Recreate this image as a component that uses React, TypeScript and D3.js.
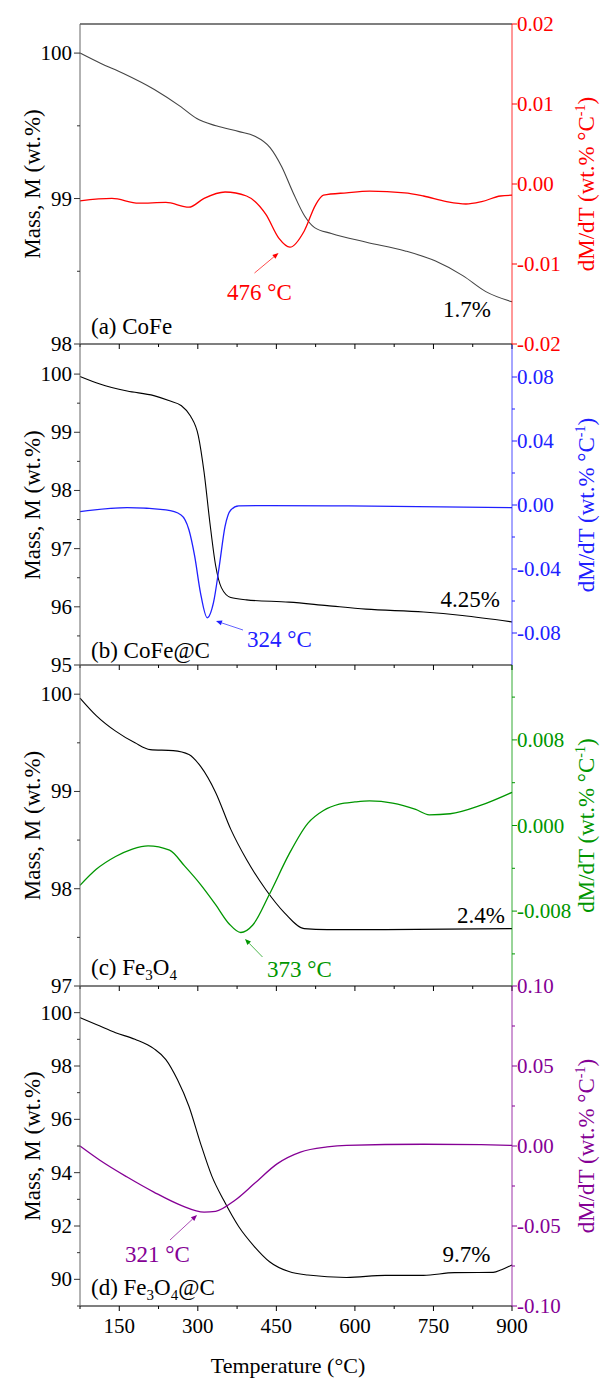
import React from "react";
import * as d3 from "d3";

// temperature axis
const xTicks = [150, 300, 450, 600, 750, 900];
const xMinorTicks = [75, 225, 375, 525, 675, 825];

// (a) CoFe
const coFeMassT = [75, 114, 158, 217, 268, 298, 335, 379, 408, 438, 460, 482, 504, 523, 555, 622, 696, 754, 806, 850, 900];
const coFeMass = [100.0, 99.93, 99.86, 99.75, 99.63, 99.55, 99.5, 99.46, 99.43, 99.35, 99.22, 99.04, 98.88, 98.8, 98.76, 98.7, 98.64, 98.57, 98.47, 98.36, 98.29];
const coFeDtgT = [75, 136, 187, 239, 283, 312, 352, 393, 430, 455, 476, 503, 525, 540, 584, 628, 695, 731, 775, 812, 842, 878, 900];
const coFeDtg = [-0.0021, -0.0018, -0.0024, -0.0023, -0.0029, -0.0018, -0.001, -0.0015, -0.0038, -0.0068, -0.0079, -0.0059, -0.0026, -0.0014, -0.0011, -0.0009, -0.0011, -0.0015, -0.0022, -0.0025, -0.0022, -0.0015, -0.0014];

// (b) CoFe@C
const coFeCMassT = [75, 113, 165, 216, 246, 268, 286, 301, 312, 323, 334, 345, 363, 393, 474, 547, 621, 731, 805, 900];
const coFeCMass = [99.96, 99.83, 99.71, 99.63, 99.54, 99.46, 99.28, 98.94, 98.31, 97.45, 96.71, 96.33, 96.16, 96.12, 96.08, 96.02, 95.96, 95.91, 95.85, 95.74];
const coFeCDtgT = [75, 165, 239, 268, 283, 294, 305, 318, 330, 341, 352, 363, 378, 437, 588, 900];
const coFeCDtg = [-0.0041, -0.0017, -0.0031, -0.0062, -0.0155, -0.032, -0.0547, -0.0705, -0.0609, -0.0382, -0.0134, -0.0031, -0.0006, -0.0004, -0.0006, -0.0017];

// (c) Fe3O4
const fe3o4MassT = [75, 106, 143, 180, 209, 253, 283, 305, 334, 363, 393, 430, 466, 503, 547, 658, 900];
const fe3o4Mass = [99.96, 99.78, 99.62, 99.5, 99.43, 99.42, 99.38, 99.26, 98.99, 98.61, 98.3, 97.99, 97.75, 97.59, 97.58, 97.58, 97.59];
const fe3o4DtgT = [75, 106, 143, 175, 205, 246, 275, 305, 334, 360, 382, 405, 437, 474, 510, 540, 570, 600, 628, 672, 716, 742, 782, 841, 900];
const fe3o4Dtg = [-0.0056, -0.0041, -0.0029, -0.0022, -0.0019, -0.0023, -0.0038, -0.0055, -0.0074, -0.0092, -0.01, -0.0093, -0.0064, -0.0027, 0.0002, 0.0014, 0.002, 0.0022, 0.0023, 0.0021, 0.0015, 0.001, 0.0011, 0.0019, 0.0031];

// (d) Fe3O4@C
const fe3o4CMassT = [75, 106, 143, 180, 216, 239, 261, 283, 305, 327, 349, 378, 408, 437, 474, 510, 584, 658, 731, 790, 864, 880, 900];
const fe3o4CMass = [99.81, 99.56, 99.25, 99.0, 98.65, 98.24, 97.49, 96.49, 95.11, 93.86, 92.98, 91.98, 91.23, 90.66, 90.29, 90.16, 90.07, 90.15, 90.15, 90.25, 90.26, 90.36, 90.54];
const fe3o4CDtgT = [75, 113, 165, 216, 268, 312, 334, 371, 408, 452, 496, 547, 584, 731, 841, 900];
const fe3o4CDtg = [0.0, -0.0089, -0.0194, -0.0288, -0.0371, -0.0413, -0.0408, -0.0339, -0.0235, -0.011, -0.0038, -0.0006, 0.0004, 0.0011, 0.0008, 0.0004];

const FONT = "'Liberation Serif', 'Times New Roman', serif";
const X0 = 80;
const X1 = 512;

const x = d3.scaleLinear().domain([75, 900]).range([X0, X1]);

const zip = (t: number[], v: number[]) => t.map((d, i) => [d, v[i]] as [number, number]);

const panels = [
  {
    top: 24, bottom: 344, color: "#ff0000", massColor: "#444",
    mDomain: [98, 100.2], mTicks: [98, 99, 100], mMinor: [98.5, 99.5],
    dDomain: [-0.02, 0.02], dTicks: [-0.02, -0.01, 0, 0.01, 0.02], dMinor: [] as number[], dFmt: ".2f",
    mass: zip(coFeMassT, coFeMass), dtg: zip(coFeDtgT, coFeDtg),
    label: ["(a) CoFe"], peak: "476 °C", peakPos: [227, 300], arrow: [254.5, 273, 278.5, 253],
    loss: "1.7%", lossPos: [443, 317], labelY: 334, frameTop: true,
  },
  {
    top: 345, bottom: 665, color: "#2020ff", massColor: "#000",
    mDomain: [95, 100.5], mTicks: [95, 96, 97, 98, 99, 100], mMinor: [95.5, 96.5, 97.5, 98.5, 99.5],
    dDomain: [-0.1, 0.1], dTicks: [-0.08, -0.04, 0, 0.04, 0.08], dMinor: [-0.06, -0.02, 0.02, 0.06], dFmt: ".2f",
    mass: zip(coFeCMassT, coFeCMass), dtg: zip(coFeCDtgT, coFeCDtg),
    label: ["(b) CoFe@C"], peak: "324 °C", peakPos: [247, 647], arrow: [243, 630, 216, 621],
    loss: "4.25%", lossPos: [440.5, 607], labelY: 658, frameTop: false,
  },
  {
    top: 665, bottom: 986, color: "#009600", massColor: "#000",
    mDomain: [97, 100.3], mTicks: [97, 98, 99, 100], mMinor: [97.5, 98.5, 99.5],
    dDomain: [-0.015, 0.015], dTicks: [-0.008, 0, 0.008], dMinor: [-0.012, -0.004, 0.004, 0.012], dFmt: ".3f",
    mass: zip(fe3o4MassT, fe3o4Mass), dtg: zip(fe3o4DtgT, fe3o4Dtg),
    label: ["(c) Fe", "3", "O", "4", ""], peak: "373 °C", peakPos: [267, 977], arrow: [262.5, 957, 245, 939],
    loss: "2.4%", lossPos: [457, 923], labelY: 975, frameTop: false,
  },
  {
    top: 986, bottom: 1306, color: "#850095", massColor: "#000",
    mDomain: [89, 101], mTicks: [90, 92, 94, 96, 98, 100], mMinor: [89, 91, 93, 95, 97, 99],
    dDomain: [-0.1, 0.1], dTicks: [-0.1, -0.05, 0, 0.05, 0.1], dMinor: [-0.075, -0.025, 0.025, 0.075], dFmt: ".2f",
    mass: zip(fe3o4CMassT, fe3o4CMass), dtg: zip(fe3o4CDtgT, fe3o4CDtg),
    label: ["(d) Fe", "3", "O", "4", "@C"], peak: "321 °C", peakPos: [125, 1262], arrow: [170, 1240, 197, 1215],
    loss: "9.7%", lossPos: [442.5, 1262], labelY: 1295, frameTop: false,
  },
];

function SampleLabel({ parts, y }: { parts: string[]; y: number }) {
  if (parts.length === 1) {
    return <text x={91} y={y} fontSize={23}>{parts[0]}</text>;
  }
  return (
    <text x={91} y={y} fontSize={23}>
      {parts[0]}
      <tspan fontSize={15} dy={5}>{parts[1]}</tspan>
      <tspan dy={-5}>{parts[2]}</tspan>
      <tspan fontSize={15} dy={5}>{parts[3]}</tspan>
      <tspan dy={-5}>{parts[4]}</tspan>
    </text>
  );
}

function Panel({ p, idx }: { p: typeof panels[number]; idx: number }) {
  const yM = d3.scaleLinear().domain(p.mDomain).range([p.bottom, p.top]);
  const yD = d3.scaleLinear().domain(p.dDomain).range([p.bottom, p.top]);
  const massLine = d3.line<[number, number]>().x(d => x(d[0])).y(d => yM(d[1])).curve(d3.curveMonotoneX);
  const dtgLine = d3.line<[number, number]>().x(d => x(d[0])).y(d => yD(d[1])).curve(d3.curveMonotoneX);
  const fmt = d3.format(p.dFmt);
  const mid = (p.top + p.bottom) / 2;
  const [ax1, ay1, ax2, ay2] = p.arrow;
  const ang = Math.atan2(ay2 - ay1, ax2 - ax1);
  const head = 6;
  const hw = 2.5;
  const bx = ax2 - head * Math.cos(ang);
  const by = ay2 - head * Math.sin(ang);
  const headPts = [
    [ax2, ay2],
    [bx + hw * Math.sin(ang), by - hw * Math.cos(ang)],
    [bx - hw * Math.sin(ang), by + hw * Math.cos(ang)],
  ].map(q => q.join(",")).join(" ");

  return (
    <g>
      <path d={massLine(p.mass) || ""} fill="none" stroke={p.massColor} strokeWidth={1.1} />
      <path d={dtgLine(p.dtg) || ""} fill="none" stroke={p.color} strokeWidth={1.3} />

      {/* frame */}
      {p.frameTop && <line x1={X0} x2={X1} y1={p.top} y2={p.top} stroke="#000" strokeWidth={1.2} />}
      <line x1={X0} x2={X1} y1={p.bottom} y2={p.bottom} stroke="#000" strokeWidth={1.2} />
      <line x1={X0} x2={X0} y1={p.top} y2={p.bottom} stroke="#666" strokeWidth={1} />
      <line x1={X1} x2={X1} y1={p.top} y2={p.bottom} stroke={p.color} strokeWidth={1} opacity={0.8} />

      {/* x ticks */}
      {xTicks.map(t => (
        <line key={"xt" + t} x1={x(t)} x2={x(t)} y1={p.bottom} y2={p.bottom + 5} stroke="#000" />
      ))}
      {xMinorTicks.map(t => (
        <line key={"xm" + t} x1={x(t)} x2={x(t)} y1={p.bottom} y2={p.bottom + 3} stroke="#000" />
      ))}

      {/* left axis */}
      {p.mTicks.map(t => (
        <g key={"ml" + t}>
          <line x1={X0 - 6} x2={X0} y1={yM(t)} y2={yM(t)} stroke="#333" />
          <text x={X0 - 8} y={yM(t) + 7} textAnchor="end" fontSize={21}>{t}</text>
        </g>
      ))}
      {p.mMinor.map(t => (
        <line key={"mm" + t} x1={X0 - 3} x2={X0} y1={yM(t)} y2={yM(t)} stroke="#333" />
      ))}
      <text transform={`translate(40,${mid}) rotate(-90)`} textAnchor="middle" fontSize={23}>Mass, M (wt.%)</text>

      {/* right axis */}
      {p.dTicks.map(t => (
        <g key={"dr" + t}>
          <line x1={X1} x2={X1 + 5} y1={yD(t)} y2={yD(t)} stroke={p.color} />
          <text x={X1 + 5} y={yD(t) + 7} fontSize={21} fill={p.color}>{fmt(t).replace("−", "-")}</text>
        </g>
      ))}
      {p.dMinor.map(t => (
        <line key={"dm" + t} x1={X1} x2={X1 + 3} y1={yD(t)} y2={yD(t)} stroke={p.color} />
      ))}
      <text transform={`translate(594,${mid}) rotate(-90)`} textAnchor="middle" fontSize={23} fill={p.color}>
        dM/dT (wt.% °C<tspan fontSize={14} dy={-9}>-1</tspan><tspan dy={9}>)</tspan>
      </text>

      {/* annotations */}
      <line x1={ax1} y1={ay1} x2={bx} y2={by} stroke={p.color} strokeWidth={0.7} />
      <polygon points={headPts} fill={p.color} />
      <text x={p.peakPos[0]} y={p.peakPos[1]} fontSize={23} fill={p.color}>{p.peak}</text>
      <text x={p.lossPos[0]} y={p.lossPos[1]} fontSize={23}>{p.loss}</text>
      <SampleLabel parts={p.label} y={p.labelY} />

      {idx === panels.length - 1 &&
        xTicks.map(t => (
          <text key={"xl" + t} x={x(t)} y={p.bottom + 27} textAnchor="middle" fontSize={21}>{t}</text>
        ))}
    </g>
  );
}

export default function App() {
  return (
    <svg width={605} height={1378} style={{ display: "block", position: "absolute", left: 0, top: 0, background: "#fff" }} fontFamily={FONT}>
      <rect width={605} height={1378} fill="#fff" />
      {panels.map((p, i) => (
        <Panel key={i} p={p} idx={i} />
      ))}
      <text x={288} y={1373} textAnchor="middle" fontSize={22}>Temperature (°C)</text>
    </svg>
  );
}
